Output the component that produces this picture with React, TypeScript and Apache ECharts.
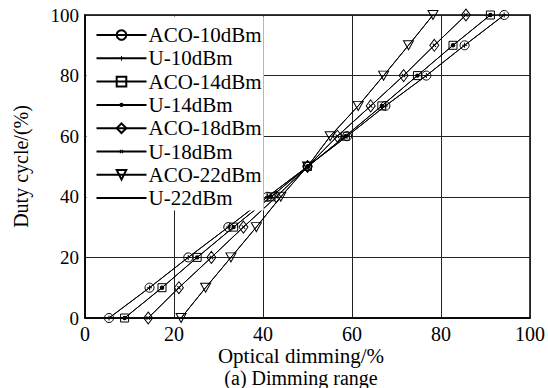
import React, { useEffect, useRef } from "react";
import * as echarts from "echarts";

const dutyCycle = [0, 10, 20, 30, 40, 50, 60, 70, 80, 90, 100];
const aco10 = [5.4, 14.5, 23.2, 32.2, 41.0, 50, 58.9, 67.5, 76.7, 85.3, 94.2];
const u10 = [5.4, 14.5, 23.2, 32.2, 41.0, 50, 58.9, 67.5, 76.7, 85.3, 94.2];
const aco14 = [8.9, 17.3, 25.2, 33.4, 41.8, 50, 58.5, 66.7, 74.7, 82.7, 91.1];
const u14 = [8.9, 17.3, 25.2, 33.4, 41.8, 50, 58.5, 66.7, 74.7, 82.7, 91.1];
const aco18 = [14.2, 21.1, 28.4, 35.6, 43.0, 50, 56.7, 64.2, 71.6, 78.5, 85.6];
const u18 = [14.2, 21.1, 28.4, 35.6, 43.0, 50, 56.7, 64.2, 71.6, 78.5, 85.6];
const aco22 = [21.6, 27.1, 32.8, 38.5, 44.0, 50, 55.1, 61.4, 67.1, 72.7, 78.2];
const u22 = [21.6, 27.1, 32.8, 38.5, 44.0, 50, 55.1, 61.4, 67.1, 72.7, 78.2];

const seriesNames = [
  "ACO-10dBm",
  "U-10dBm",
  "ACO-14dBm",
  "U-14dBm",
  "ACO-18dBm",
  "U-18dBm",
  "ACO-22dBm",
  "U-22dBm",
];
const axisTicks = [0, 20, 40, 60, 80, 100];
const xAxisTitle = "Optical dimming/%";
const yAxisTitle = "Duty cycle/(%)";
const caption = "(a) Dimming range";

const FONT = "'Liberation Serif', 'Times New Roman', serif";

const PAD = "M0,0L0,0M10,10L10,10";
const PLUS = "path://" + PAD + "M4.5,2.5H5.5V4.5H7.5V5.5H5.5V7.5H4.5V5.5H2.5V4.5H4.5Z";
const DOT = "path://" + PAD + "M2.8,5A2.2,2.2,0,1,1,7.2,5A2.2,2.2,0,1,1,2.8,5Z";
const CROSS =
  "path://" + PAD + "M3,3.7L3.7,3L5,4.3L6.3,3L7,3.7L5.7,5L7,6.3L6.3,7L5,5.7L3.7,7L3,6.3L4.3,5Z";
const TRI_DOWN = "path://M0,0L10,0L5,9Z";

function pairs(xs: number[]) {
  return xs.map((x, i) => [x, dutyCycle[i]]);
}

export default function App() {
  const ref = useRef<HTMLDivElement>(null);

  useEffect(() => {
    if (!ref.current) return;
    const chart = echarts.init(ref.current, null, { renderer: "svg" });

    const hollow = {
      color: "rgba(0,0,0,0)",
      borderColor: "#000",
      borderWidth: 1,
    };
    const solid = { color: "#000", borderWidth: 0 };
    const line = { color: "#000", width: 1 };

    const defs: any[] = [
      { data: aco10, symbol: "circle", symbolSize: 9, itemStyle: hollow },
      { data: u10, symbol: PLUS, symbolSize: 10, itemStyle: solid },
      { data: aco14, symbol: "rect", symbolSize: 8, itemStyle: hollow },
      { data: u14, symbol: DOT, symbolSize: 10, itemStyle: solid },
      { data: aco18, symbol: "diamond", symbolSize: [9, 12], itemStyle: hollow },
      { data: u18, symbol: CROSS, symbolSize: 10, itemStyle: solid },
      { data: aco22, symbol: TRI_DOWN, symbolSize: [10, 9], itemStyle: hollow },
      { data: u22, symbol: "none", symbolSize: 0, itemStyle: solid },
    ];

    const series = defs.map((d, i) => ({
      name: seriesNames[i],
      type: "line",
      data: pairs(d.data),
      symbol: d.symbol,
      symbolSize: d.symbolSize,
      showSymbol: d.symbol !== "none",
      itemStyle: d.itemStyle,
      lineStyle: line,
      emphasis: { disabled: true },
      z: 2,
    }));

    const axisCommon = {
      type: "value",
      min: axisTicks[0],
      max: axisTicks[axisTicks.length - 1],
      interval: axisTicks[1] - axisTicks[0],
      axisLine: { show: true, lineStyle: { color: "#000", width: 1.5 } },
      axisTick: { show: false },
      splitLine: { show: true, lineStyle: { color: "#222", width: 1 } },
    };

    chart.setOption({
      animation: false,
      backgroundColor: "#fff",
      grid: {
        left: 85,
        right: 13,
        top: 15,
        bottom: 70,
        show: true,
        borderColor: "#000",
        borderWidth: 1.5,
        backgroundColor: "rgba(0,0,0,0)",
      },
      legend: {
        orient: "vertical",
        left: 86.5,
        top: 16.5,
        padding: [8, 2, 2, 9],
        backgroundColor: "#fff",
        borderWidth: 0,
        itemWidth: 50,
        itemHeight: 12,
        itemGap: 2.3,
        selectedMode: false,
        textStyle: {
          fontFamily: FONT,
          fontSize: 21,
          lineHeight: 21,
          color: "#000",
          padding: [0, 0, 0, -3],
        },
        data: seriesNames.map((n) =>
          n === "U-22dBm" ? { name: n, itemStyle: { opacity: 0 } } : { name: n }
        ),
      },
      xAxis: {
        ...axisCommon,
        axisLabel: {
          fontFamily: FONT,
          fontSize: 20,
          color: "#000",
          margin: 6,
        },
      },
      yAxis: {
        ...axisCommon,
        name: yAxisTitle,
        nameLocation: "middle",
        nameRotate: 90,
        nameGap: 54,
        nameTextStyle: { fontFamily: FONT, fontSize: 20, color: "#000" },
        axisLabel: {
          fontFamily: FONT,
          fontSize: 19,
          color: "#000",
          margin: 6,
        },
      },
      graphic: [
        {
          type: "text",
          x: 301,
          y: 356,
          style: {
            text: xAxisTitle,
            fontFamily: FONT,
            fontSize: 21,
            fill: "#000",
            textAlign: "center",
            textVerticalAlign: "middle",
          },
        },
        {
          type: "text",
          x: 301,
          y: 378,
          style: {
            text: caption,
            fontFamily: FONT,
            fontSize: 20,
            fill: "#000",
            textAlign: "center",
            textVerticalAlign: "middle",
          },
        },
      ],
      series,
    });

    return () => chart.dispose();
  }, []);

  return (
    <div
      ref={ref}
      style={{ position: "fixed", left: 0, top: 0, width: 548, height: 388 }}
    />
  );
}
